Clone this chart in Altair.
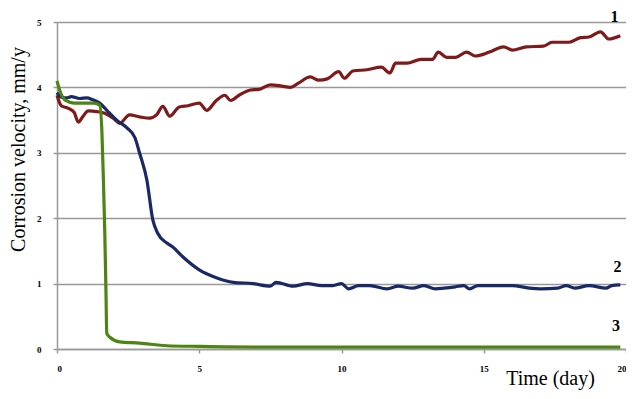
import altair as alt
import pandas as pd

# Series 1 (red)
day1 = [0, 0.15, 0.4, 0.6, 0.75, 0.9, 1.1, 1.4, 1.7, 2.0, 2.2, 2.55, 2.9, 3.25, 3.5, 3.72, 3.96, 4.3, 4.6, 5.0,
        5.26, 5.6, 5.9, 6.1, 6.4, 6.8, 7.1, 7.5, 7.9, 8.2, 8.5, 8.9, 9.2, 9.5, 9.9, 10.1, 10.4, 10.9, 11.4, 11.7,
        11.9, 12.3, 12.8, 13.2, 13.4, 13.7, 14.0, 14.4, 14.7, 15.2, 15.7, 16.0, 16.5, 17.1, 17.4, 18.0, 18.4, 18.7,
        19.1, 19.4, 19.8]
val1 = [3.88, 3.72, 3.68, 3.62, 3.47, 3.55, 3.64, 3.63, 3.60, 3.52, 3.45, 3.58, 3.55, 3.53, 3.58, 3.71, 3.56, 3.70,
        3.72, 3.76, 3.65, 3.80, 3.88, 3.80, 3.88, 3.96, 3.97, 4.04, 4.02, 4.00, 4.07, 4.16, 4.11, 4.13, 4.24, 4.14,
        4.25, 4.27, 4.31, 4.22, 4.37, 4.37, 4.43, 4.43, 4.54, 4.46, 4.46, 4.54, 4.48, 4.54, 4.62, 4.57, 4.62, 4.63,
        4.69, 4.69, 4.76, 4.77, 4.85, 4.74, 4.79]

# Series 2 (blue)
day2 = [0, 0.15, 0.35, 0.5, 0.8, 1.05, 1.26, 1.5, 1.75, 2.1, 2.46, 2.74, 2.9, 3.16, 3.37, 3.54, 3.86, 4.07, 4.42,
        5.0, 5.6, 6.2, 6.9, 7.5, 7.7, 8.3, 8.8, 9.3, 9.7, 10.0, 10.25, 10.6, 11.0, 11.6, 12.0, 12.5, 12.9, 13.3,
        13.6, 14.0, 14.3, 14.5, 14.8, 15.3, 16.0, 16.6, 17.0, 17.6, 17.9, 18.2, 18.7, 19.3, 19.5, 19.8]
val2 = [3.92, 3.85, 3.84, 3.86, 3.83, 3.84, 3.81, 3.76, 3.65, 3.50, 3.38, 3.23, 3.00, 2.58, 1.97, 1.77, 1.62, 1.56,
        1.41, 1.21, 1.09, 1.02, 1.00, 0.96, 1.02, 0.96, 1.00, 0.97, 0.97, 1.00, 0.92, 0.97, 0.97, 0.92, 0.96, 0.93,
        0.97, 0.92, 0.93, 0.95, 0.97, 0.92, 0.97, 0.97, 0.97, 0.93, 0.92, 0.93, 0.97, 0.93, 0.97, 0.93, 0.97, 0.98]

# Series 3 (green)
day3 = [0, 0.1, 0.3, 0.6, 1.0, 1.3, 1.5, 1.58, 1.63, 1.68, 1.72, 1.75, 1.86, 2.2, 2.9, 3.86, 5.0, 7.0, 10.0, 15.0, 19.8]
val3 = [4.10, 3.95, 3.80, 3.76, 3.76, 3.76, 3.73, 3.30, 2.60, 1.77, 0.90, 0.24, 0.18, 0.11, 0.09, 0.05, 0.04, 0.03,
        0.03, 0.03, 0.03]

series_names = ["1", "2", "3"]
series_colors = ["#7E1A1A", "#1A2966", "#4D8414"]

label_day = [19.6, 19.7, 19.65]
label_val = [5.07, 1.25, 0.35]

x_ticks = [0, 5, 10, 15, 20]
y_ticks = [0, 1, 2, 3, 4, 5]

rows = []
for name, ds, vs in zip(series_names, [day1, day2, day3], [val1, val2, val3]):
    for i, (d, v) in enumerate(zip(ds, vs)):
        rows.append({"series": name, "day": d, "v": v, "order": i})
df = pd.DataFrame(rows)
lab = pd.DataFrame({"series": series_names, "day": label_day, "v": label_val})

SERIF = "Liberation Serif"

x_enc = alt.X("day:Q", scale=alt.Scale(domain=[0, 20], nice=False),
              axis=alt.Axis(values=x_ticks, format="d", grid=False, domainColor="#999999", domainWidth=1.5,
                            tickColor="#999999", tickSize=4, tickWidth=1.5,
                            labelFont=SERIF, labelFontWeight="bold", labelFontSize=9, labelColor="#000",
                            labelPadding=11, title="Time (day)", titleFont=SERIF, titleFontSize=20,
                            titleFontWeight="normal", titleColor="#000", titleX=493, titleY=35,
                            titleAlign="center", titleBaseline="alphabetic"))
y_enc = alt.Y("v:Q", scale=alt.Scale(domain=[0, 5], nice=False),
              axis=alt.Axis(values=y_ticks, format="d", grid=True, gridColor="#999999", gridWidth=1.5,
                            domainColor="#999999", domainWidth=1.5, tickColor="#999999", tickSize=4,
                            tickWidth=1.5, labelFont=SERIF, labelFontWeight="bold", labelFontSize=9,
                            labelColor="#000", labelPadding=12,
                            title="Corrosion velocity, mm/y", titleFont=SERIF, titleFontSize=20,
                            titleFontWeight="normal", titleColor="#000", titleX=-39, titleY=127,
                            titleAlign="center", titleBaseline="middle", titleAngle=-90))

color = alt.Color("series:N", scale=alt.Scale(domain=series_names, range=series_colors), legend=None)

lines = alt.Chart(df).mark_line(strokeWidth=3.2, interpolate="monotone").encode(
    x=x_enc, y=y_enc, color=color, order="order:Q", detail="series:N")

labels = alt.Chart(lab).mark_text(font=SERIF, fontSize=16, fontWeight="bold", color="#000").encode(
    x="day:Q", y="v:Q", text="series:N")

chart = alt.layer(lines, labels).properties(
    width=569, height=327, autosize="none",
    padding={"left": 49, "top": 14, "right": 0, "bottom": 42},
).configure_view(stroke=None).configure(background="white")

chart.save("out.html", embed_options={"renderer": "svg", "actions": False})
